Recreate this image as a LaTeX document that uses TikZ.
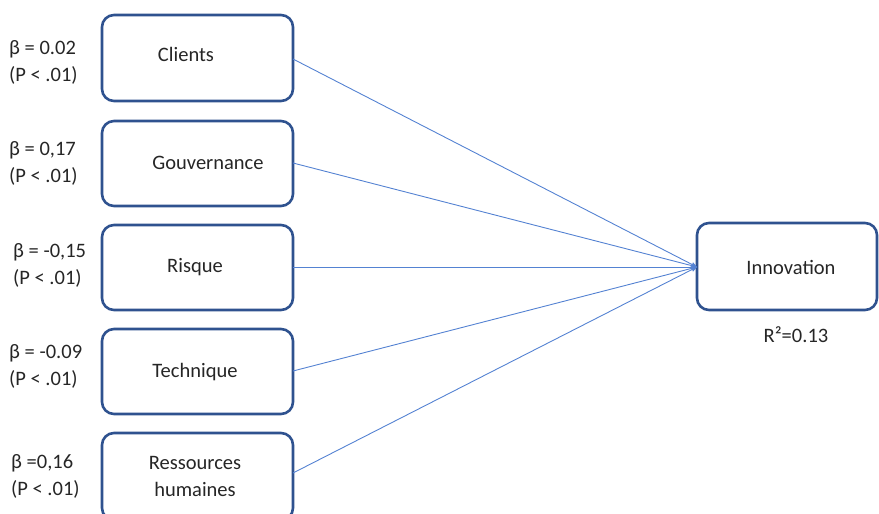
\documentclass[tikz,border=0pt]{standalone}
\usepackage{fontspec}
\setmainfont{Carlito}
\usetikzlibrary{arrows.meta}
\definecolor{boxblue}{RGB}{47,82,143}
\definecolor{linkblue}{RGB}{84,130,210}
\definecolor{ink}{RGB}{38,38,38}
\begin{document}
\begin{tikzpicture}[x=1pt,y=-1pt,
  factor/.style={draw=boxblue, line width=2.6pt, rounded corners=12pt, fill=white},
  lbl/.style={text=ink, font=\fontsize{20.5}{24}\selectfont, inner sep=0pt},
  coef/.style={lbl, anchor=west, align=left, font=\fontsize{20.5}{27}\selectfont},
  link/.style={draw=linkblue, line width=0.9pt}]
\useasboundingbox (0,0) rectangle (879,514);
\clip (0,0) rectangle (879,514);
% predictor boxes
\draw[factor] (102,15) rectangle (293,101);
\draw[factor] (102,121) rectangle (293,206);
\draw[factor] (102,225) rectangle (293,310);
\draw[factor] (102,329) rectangle (293,414);
\draw[factor] (102,433) rectangle (293,520);
% outcome box
\draw[factor] (697,223) rectangle (877,310);
% box texts
\node[lbl] (cli) at (186,54) {Clients};
\node[lbl] (gou) at (208,163) {Gouvernance};
\node[lbl] (ris) at (195,267) {Risque};
\node[lbl] (tec) at (195,372) {Technique};
\node[lbl, align=center, font=\fontsize{20.5}{27}\selectfont] (res) at (195,476) {Ressources\\humaines};
\node[lbl] (inn) at (791,267) {Innovation};
\node[lbl] (r2) at (796,335) {R²=0.13};
% anchor points of the paths
\coordinate (pc) at (293,59);
\coordinate (pg) at (293,163);
\coordinate (pr) at (293,267);
\coordinate (pt) at (293,371);
\coordinate (ph) at (293,473);
\coordinate (pi) at (697,267);
\foreach \s in {pc,pg,pr,pt,ph}
  \draw[link, -{Stealth[length=6pt,width=5pt]}] (\s) -- (pi);
% coefficients
\node[coef] (bc) at (9,62) {β = 0.02\\(P < .01)};
\node[coef] (bg) at (9,163) {β = 0,17\\(P < .01)};
\node[coef] (br) at (13,265) {β = -0,15\\(P < .01)};
\node[coef] (bt) at (9,366) {β = -0.09\\(P < .01)};
\node[coef] (bh) at (11,476) {β =0,16\\(P < .01)};
\end{tikzpicture}
\end{document}
